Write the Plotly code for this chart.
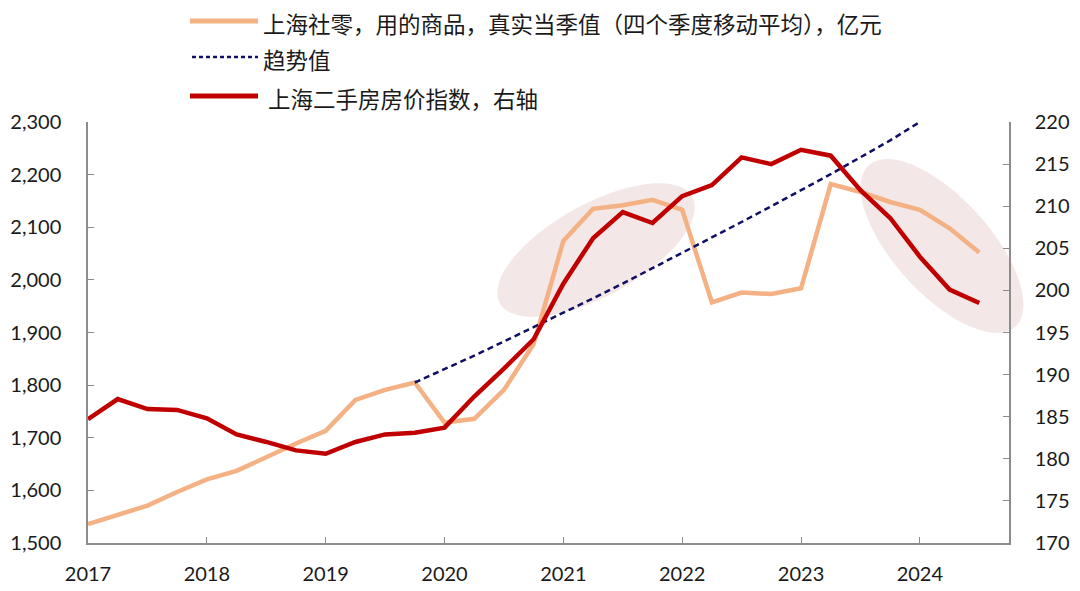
import numpy as np
import plotly.graph_objects as go

quarters = [f"{y}Q{q}" for y in range(2017, 2025) for q in range(1, 5)][:31]

retail = [1536, 1553, 1571, 1597, 1621, 1637, 1664, 1689, 1713, 1772, 1791, 1805,
          1729, 1736, 1791, 1878, 2074, 2135, 2142, 2152, 2133, 1957, 1976, 1973,
          1984, 2182, 2167, 2148, 2133, 2098, 2052]

trend_q = quarters[11:29]
trend = [1805, 1830, 1856, 1883, 1910, 1937, 1965, 1993, 2022, 2051, 2080, 2110,
         2140, 2170, 2201, 2233, 2265, 2300]

house = [184.7, 187.1, 185.9, 185.8, 184.8, 182.9, 182.0, 181.0, 180.6, 182.0, 182.9,
         183.1, 183.7, 187.4, 190.7, 194.2, 200.8, 206.2, 209.3, 208.0, 211.2, 212.5,
         215.8, 215.0, 216.7, 216.0, 211.9, 208.6, 204.0, 200.1, 198.5]

year_ticks = [f"{y}Q1" for y in range(2017, 2025)]
year_labels = [str(y) for y in range(2017, 2025)]

names = ["上海社零，用的商品，真实当季值（四个季度移动平均），亿元", "趋势值", " 上海二手房房价指数，右轴"]

C_RETAIL, C_TREND, C_HOUSE = "#F4B183", "#0F0F66", "#C00000"
TREND_DASH = "6px,4px"

# plot area in screen pixels (page has an 8px body margin)
L, R, T, B = 88, 1009, 122, 543
W, H = R - L, B - T
OFF = 8

def px2paper(px, py):
    return (px - L) / W, (B - py) / H

def ellipse_path(cx, cy, a, b, theta_deg, n=80):
    th = np.radians(theta_deg)
    t = np.linspace(0, 2 * np.pi, n)
    px = cx + a * np.cos(t) * np.cos(th) - b * np.sin(t) * np.sin(th)
    py = cy + a * np.cos(t) * np.sin(th) + b * np.sin(t) * np.cos(th)
    xs, ys = px2paper(px, py)
    pts = [f"{x:.4f},{y:.4f}" for x, y in zip(xs, ys)]
    return "M " + " L ".join(pts) + " Z"

fig = go.Figure()
fig.add_trace(go.Scatter(x=quarters, y=retail, name=names[0], mode="lines",
                         line=dict(color=C_RETAIL, width=4.5)))
fig.add_trace(go.Scatter(x=trend_q, y=trend, name=names[1], mode="lines",
                         line=dict(color=C_TREND, width=2.5, dash=TREND_DASH)))
fig.add_trace(go.Scatter(x=quarters, y=house, name=names[2], mode="lines", yaxis="y2",
                         line=dict(color=C_HOUSE, width=4.5)))

shapes = [
    dict(type="path", xref="paper", yref="paper", layer="below",
         path=ellipse_path(596, 250, 110, 46, -29), fillcolor="rgba(190,110,110,0.17)",
         line=dict(width=0)),
    dict(type="path", xref="paper", yref="paper", layer="below",
         path=ellipse_path(942, 246, 109, 48, 47.8), fillcolor="rgba(190,110,110,0.17)",
         line=dict(width=0)),
]

# manual legend (sample lines + labels), positions in screen pixels
legend_rows = [
    dict(y=21, x0=190, x1=258, tx=262, color=C_RETAIL, width=5, dash="solid"),
    dict(y=57, x0=192, x1=258, tx=262, color=C_TREND, width=2.5, dash="4px,3px"),
    dict(y=96, x0=190, x1=258, tx=262, color=C_HOUSE, width=5, dash="solid"),
]
annotations = []
for name, row in zip(names, legend_rows):
    x0, y0 = px2paper(row["x0"], row["y"])
    x1, _ = px2paper(row["x1"], row["y"])
    shapes.append(dict(type="line", xref="paper", yref="paper", x0=x0, x1=x1, y0=y0, y1=y0,
                       line=dict(color=row["color"], width=row["width"], dash=row["dash"])))
    tx, ty = px2paper(row["tx"], row["y"] + 2)
    annotations.append(dict(xref="paper", yref="paper", x=tx, y=ty, xanchor="left",
                            yanchor="middle", showarrow=False, text=name, borderpad=0,
                            font=dict(family="Noto Sans CJK SC", size=22.5, color="#1a1a1a")))

axis_common = dict(showgrid=False, zeroline=False, showline=True, linecolor="#8C8C8C",
                   linewidth=1.5, ticks="inside", ticklen=6, tickcolor="#8C8C8C",
                   automargin=False,
                   tickfont=dict(family="Lato, Liberation Sans, sans-serif", size=20, color="#1a1a1a"))

fig.update_layout(
    width=1080, height=591,
    margin=dict(l=L - OFF, r=1080 - (L - OFF) - W, t=T - OFF, b=591 - (T - OFF) - H,
                autoexpand=False),
    paper_bgcolor="white", plot_bgcolor="white",
    showlegend=False,
    xaxis=dict(type="category", categoryorder="array", categoryarray=quarters,
               range=[0, 31], tickmode="array", tickvals=year_ticks, ticktext=year_labels,
               ticklabelstandoff=12, **axis_common),
    yaxis=dict(range=[1500, 2300], dtick=100, tickformat=",", ticklabelstandoff=21,
               **axis_common),
    yaxis2=dict(range=[170, 220], dtick=5, overlaying="y", side="right",
                ticklabelstandoff=20, **axis_common),
    shapes=shapes,
    annotations=annotations,
)

fig.write_html("out.html")
